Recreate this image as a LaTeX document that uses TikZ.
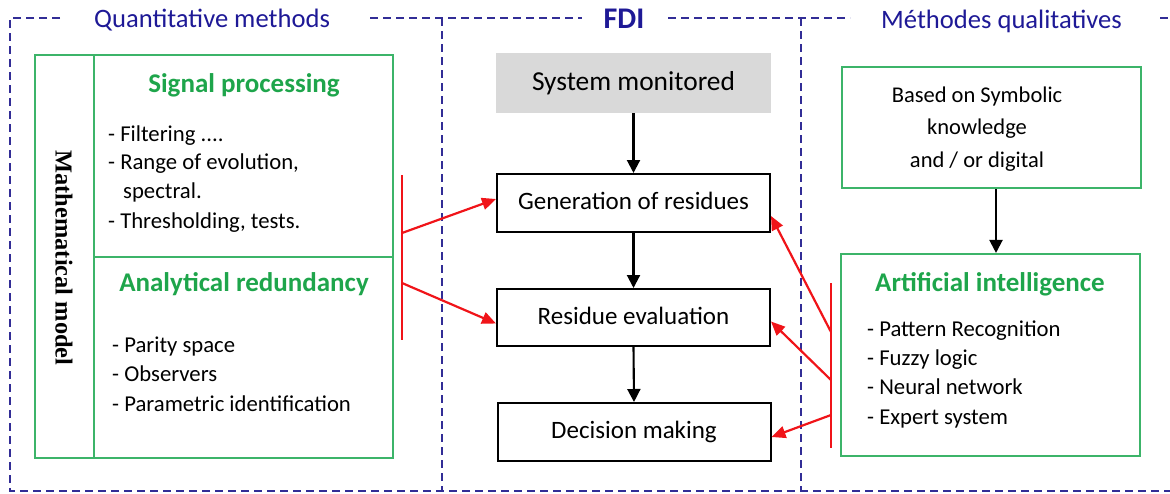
\documentclass[tikz,border=0pt]{standalone}
\usepackage{fontspec}
\setmainfont{Carlito}
\newfontfamily\modelfont{Liberation Serif}
\usetikzlibrary{arrows.meta,calc}

\definecolor{frameblue}{RGB}{50,45,150}
\definecolor{titleblue}{RGB}{30,25,150}
\definecolor{boxgreen}{RGB}{60,180,105}
\definecolor{headgreen}{RGB}{30,165,75}
\definecolor{arrowred}{RGB}{240,20,25}
\definecolor{sysgray}{RGB}{217,217,217}

\begin{document}
\begin{tikzpicture}[x=1pt,y=-1pt,
  frame/.style={draw=frameblue, line width=2pt, dash pattern=on 8pt off 5pt},
  paneltitle/.style={text=titleblue, inner sep=0, font=\fontsize{26.6}{30}\selectfont},
  greenbox/.style={draw=boxgreen, line width=2.1pt, inner sep=0},
  stagebox/.style={draw=black, line width=2pt, fill=white, inner sep=0,
    minimum width=273pt, text height=17pt, text depth=4pt,
    font=\fontsize{25}{30}\selectfont},
  sysbox/.style={fill=sysgray, inner sep=0, minimum width=275pt, minimum height=60pt,
    text height=18pt, text depth=4pt, font=\fontsize{27.4}{30}\selectfont},
  heading/.style={text=headgreen, inner sep=0, anchor=base, font=\bfseries\fontsize{27}{30}\selectfont},
  item/.style={inner sep=0, anchor=base west, font=\fontsize{22.7}{28}\selectfont},
  kitem/.style={inner sep=0, anchor=base, font=\fontsize{22.5}{28}\selectfont},
  flow/.style={draw=black, line width=2.1pt, -{Triangle[length=13pt,width=13pt]}},
  feed/.style={draw=arrowred, line width=2.2pt, -{Triangle[length=14pt,width=12pt]}},
  bar/.style={draw=arrowred, line width=2.2pt}]

\useasboundingbox (0,0) rectangle (1170,493);

% dashed panel frames
\draw[frame] (60,18) -- (10,18) -- (10,491) -- (1170,491);
\draw[frame] (370,18) -- (582,18);
\draw[frame] (668,18) -- (850,18);
\draw[frame] (1160,18) -- (1170,18);
\draw[frame] (442,18) -- (442,491);
\draw[frame] (801,18) -- (801,491);

% panel titles
\node[paneltitle, anchor=base west] (tquant) at (94,27) {Quantitative methods};
\node[paneltitle, anchor=base, font=\bfseries\fontsize{30}{32}\selectfont] (tfdi) at (624,28) {FDI};
\node[paneltitle, anchor=base west] (tqual) at (881,28) {Méthodes qualitatives};

% quantitative methods
\node[greenbox, minimum width=59pt, minimum height=403pt] (mathcol) at (64.5,256.5) {};
\node[greenbox, minimum width=299pt, minimum height=202pt] (sigbox) at (243.5,156) {};
\node[greenbox, minimum width=299pt, minimum height=201pt] (anabox) at (243.5,357.5) {};
\node[rotate=-90, inner sep=0, font=\modelfont\bfseries\fontsize{24.4}{28}\selectfont] (mathlbl) at (64,258) {Mathematical model};

\node[heading] (sighead) at (244,92) {Signal processing};
\node[item] (s1) at (108,141) {- Filtering ....};
\node[item] (s2) at (108,169) {- Range of evolution,};
\node[item] (s3) at (123,198) {spectral.};
\node[item] (s4) at (108,228) {- Thresholding, tests.};

\node[heading] (anahead) at (244,291) {Analytical redundancy};
\node[item] (a1) at (112,352) {- Parity space};
\node[item] (a2) at (112,381) {- Observers};
\node[item] (a3) at (112,411) {- Parametric identification};

% FDI chain
\node[sysbox] (sys) at (633.5,83) {System monitored};
\node[stagebox, minimum height=58pt] (gen) at (633.5,203) {Generation of residues};
\node[stagebox, minimum height=57pt] (res) at (633.5,317.5) {Residue evaluation};
\node[stagebox, minimum height=58pt] (dec) at (634,432) {Decision making};

\draw[flow] (sys.south) -- (gen.north);
\draw[flow] (gen.south) -- (res.north);
\draw[flow] (res.south) -- (dec.north);

% qualitative methods
\node[greenbox, minimum width=299pt, minimum height=121pt] (kbox) at (991.5,127.5) {};
\node[kitem] (k1) at (977,102) {Based on Symbolic};
\node[kitem] (k2) at (977,134) {knowledge};
\node[kitem] (k3) at (977,167) {and / or digital};

\node[greenbox, minimum width=299pt, minimum height=202pt] (aibox) at (990.5,355) {};
\node[heading] (aihead) at (990,291) {Artificial intelligence};
\node[item] (i1) at (867,336) {- Pattern Recognition};
\node[item] (i2) at (867,365) {- Fuzzy logic};
\node[item] (i3) at (867,394) {- Neural network};
\node[item] (i4) at (867,424) {- Expert system};

\draw[flow] ($(kbox.south)+(4.5,0)$) -- ($(aibox.north)+(5.5,0)$);

% feedback bars and red connectors
\coordinate (lbtop) at (402,175);
\coordinate (lbbot) at (402,340);
\coordinate (lb1) at (402,233);
\coordinate (lb2) at (402,283);
\draw[bar] (lbtop) -- (lbbot);
\draw[feed] (lb1) -- ($(gen.west)+(0,-4)$);
\draw[feed] (lb2) -- ($(res.west)+(0,6)$);

\coordinate (rbtop) at (831,283);
\coordinate (rbbot) at (831,448);
\coordinate (rb1) at (831,332);
\coordinate (rb2) at (831,380);
\coordinate (rb3) at (831,415);
\draw[bar] (rbtop) -- (rbbot);
\draw[feed] (rb1) -- ($(gen.east)+(0,13)$);
\draw[feed] (rb2) -- ($(res.east)+(0,4)$);
\draw[feed] (rb3) -- ($(dec.east)+(0,5)$);

\end{tikzpicture}
\end{document}
